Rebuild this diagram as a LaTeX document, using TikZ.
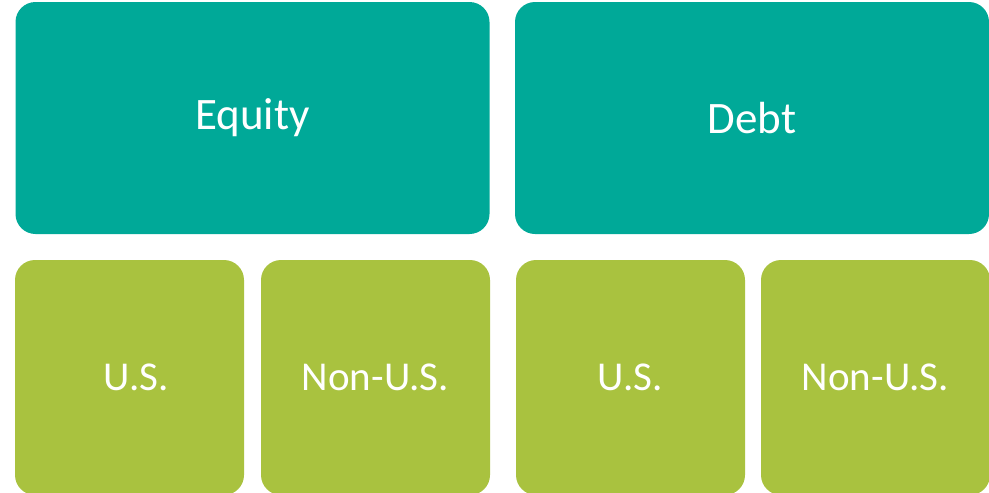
\documentclass[tikz,border=0pt]{standalone}
\usepackage{fontspec}
\setmainfont{Carlito}
\definecolor{assetteal}{RGB}{0,169,152}
\definecolor{assetgreen}{RGB}{169,194,63}
\tikzset{
  classbox/.style={fill=assetteal, text=white, rounded corners=20pt, inner sep=0pt,
    minimum width=474pt, minimum height=232pt, font=\fontsize{45}{54}\selectfont},
  regionbox/.style={fill=assetgreen, text=white, rounded corners=20pt, inner sep=0pt,
    minimum width=229pt, minimum height=235pt, font=\fontsize{41}{49}\selectfont}
}
\begin{document}
\begin{tikzpicture}[x=1pt, y=-1pt]
\useasboundingbox (0,0) rectangle (989,493);
\node[classbox] (equity) at (252.5,118) {Equity};
\node[classbox] (debt) at (752,118) {Debt};
\node[regionbox] (equityus) at (129.5,377.5) {\hspace*{14pt}U.S.};
\node[regionbox] (equitynonus) at (375.5,377.5) {Non-U.S.};
\node[regionbox] (debtus) at (630.5,377.5) {U.S.};
\node[regionbox] (debtnonus) at (875.5,377.5) {Non-U.S.};
\end{tikzpicture}
\end{document}
